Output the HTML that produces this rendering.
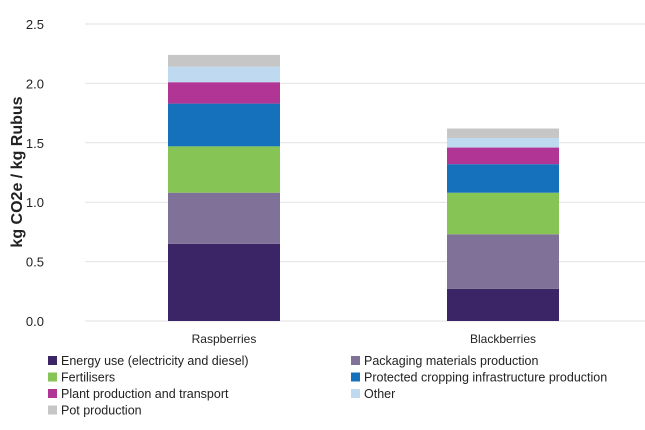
<!DOCTYPE html>
<html><head><meta charset="utf-8"><style>
body{margin:0;background:#fff;font-family:"Liberation Sans",sans-serif;}
svg text{font-family:"Liberation Sans",sans-serif;fill:#222;}
</style></head><body>
<svg id="chart" width="645" height="425"></svg>
<script>
const categories=["Raspberries","Blackberries"];
const seriesNames=["Energy use (electricity and diesel)","Packaging materials production","Fertilisers","Protected cropping infrastructure production","Plant production and transport","Other","Pot production"];
const energy=[0.65,0.27];
const packaging=[0.43,0.46];
const fertilisers=[0.39,0.35];
const protectedCrop=[0.36,0.24];
const plant=[0.18,0.14];
const other=[0.13,0.08];
const pot=[0.10,0.08];
const yTicks=["0.0","0.5","1.0","1.5","2.0","2.5"];
const colors=["#3b2566","#7f7198","#86c555","#1571bc","#b03594","#bfdaf0","#c6c6c6"];
const series=[energy,packaging,fertilisers,protectedCrop,plant,other,pot];
const NS="http://www.w3.org/2000/svg";
const svg=document.getElementById('chart');
const y0=321,yTop=24,yMax=2.5;
const y=v=>y0-(v/yMax)*(y0-yTop);
const xC=[224,503],bw=112;
function mk(t,a,p){const e=document.createElementNS(NS,t);for(const k in a)e.setAttribute(k,a[k]);(p||svg).appendChild(e);return e;}
yTicks.forEach(t=>{
  const v=parseFloat(t);
  const g=mk('line',{x1:85,x2:645,y1:y(v),y2:y(v),stroke:'#e2e2e2','stroke-width':1});
  
  
  const l=mk('text',{x:44,y:y(v)+5,'text-anchor':'end','font-size':13});
  l.textContent=t;
  
  
});
const yt=mk('text',{transform:'translate(22,172) rotate(-90)','text-anchor':'middle','font-size':16,'font-weight':'bold'});
yt.textContent='kg  CO2e / kg Rubus';


categories.forEach((c,i)=>{
  let cum=0;
  series.forEach((s,j)=>{
    const r=mk('rect',{x:xC[i]-bw/2,y:y(cum+s[i]),width:bw,height:y(cum)-y(cum+s[i]),fill:colors[j]});
    
    
    cum+=s[i];
  });
  const t=mk('text',{x:xC[i],y:343,'text-anchor':'middle','font-size':12});
  t.textContent=c;
  
  
});
seriesNames.forEach((n,j)=>{
  const col=j%2,row=Math.floor(j/2);
  const lx=col?351:48, ly=356+row*16.5;
  const sq=mk('rect',{x:lx,y:ly,width:9,height:9,fill:colors[j]});
  
  
  const t=mk('text',{x:lx+13,y:ly+9,'font-size':12.5});
  t.textContent=n;
  
  
});
</script>
</body></html>
